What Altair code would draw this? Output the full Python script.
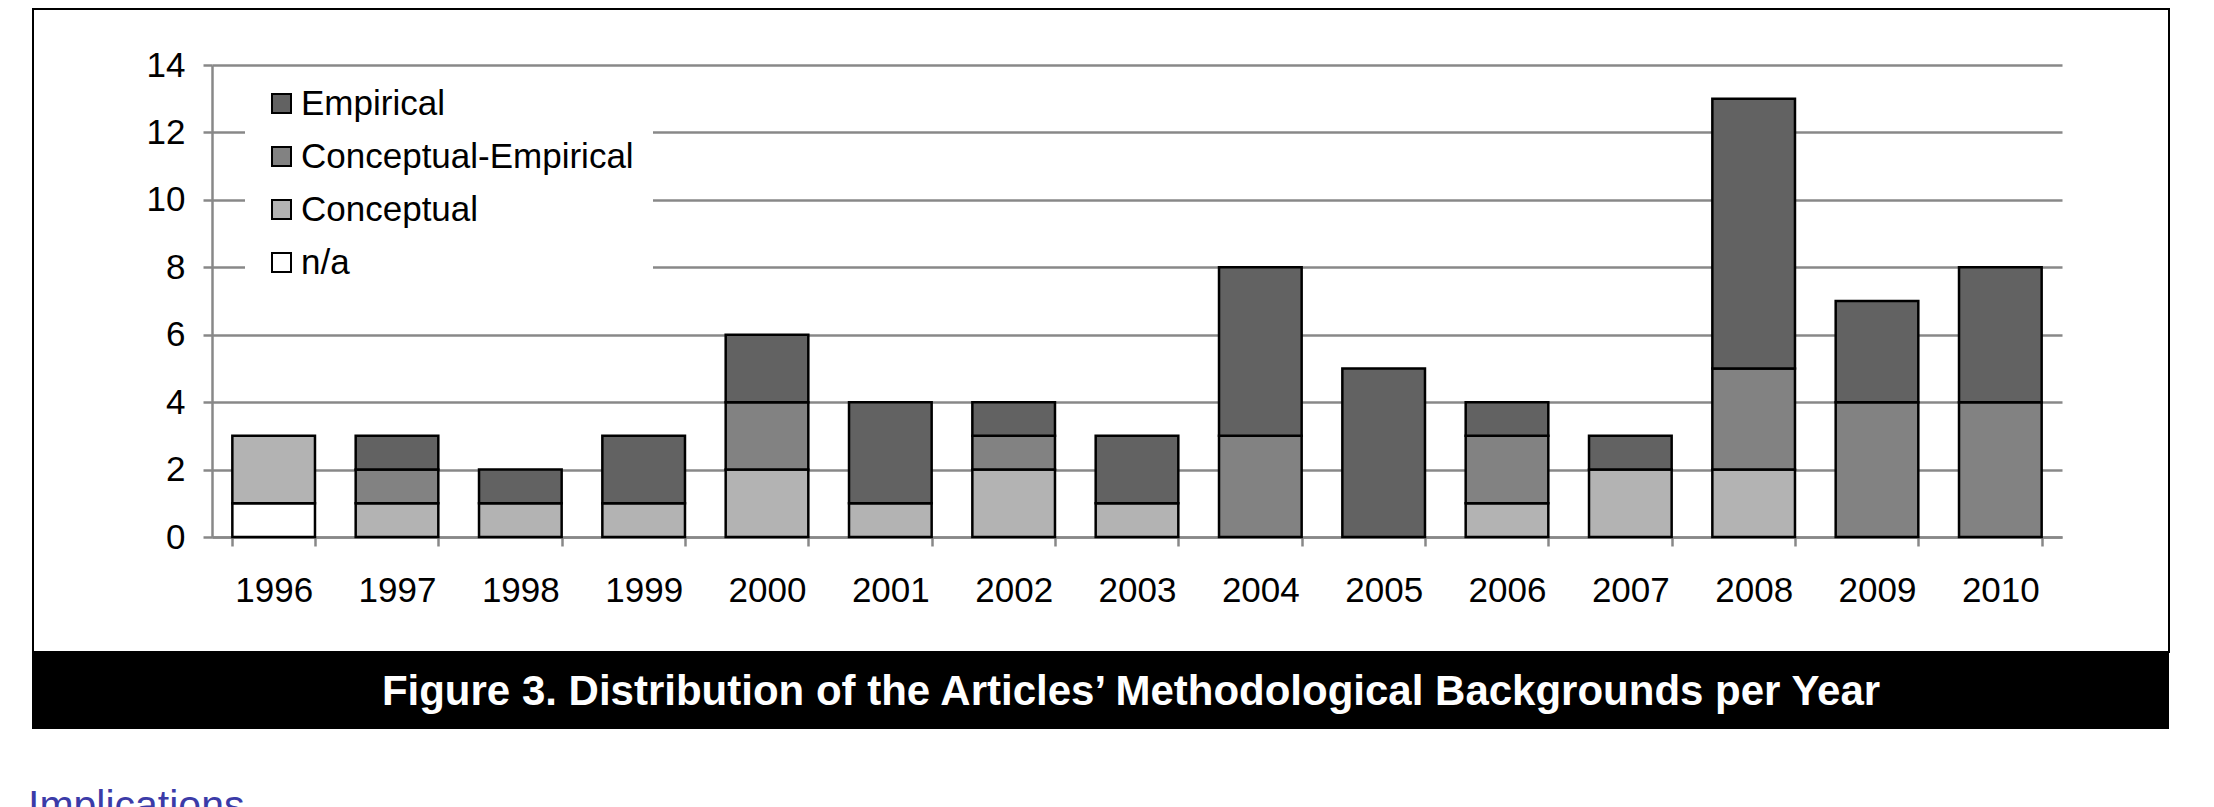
import altair as alt
import pandas as pd

years = ["1996", "1997", "1998", "1999", "2000", "2001", "2002", "2003",
         "2004", "2005", "2006", "2007", "2008", "2009", "2010"]
na_vals = [1, 0, 0, 0, 0, 0, 0, 0, 0, 0, 0, 0, 0, 0, 0]
conceptual = [2, 1, 1, 1, 2, 1, 2, 1, 0, 0, 1, 2, 2, 0, 0]
conc_emp = [0, 1, 0, 0, 2, 0, 1, 0, 3, 0, 2, 0, 3, 4, 4]
empirical = [0, 1, 1, 2, 2, 3, 1, 2, 5, 5, 1, 1, 8, 3, 4]

categories = ["Empirical", "Conceptual-Empirical", "Conceptual", "n/a"]
colors = ["#626262", "#828282", "#b3b3b3", "#ffffff"]
stack_rank = {"n/a": 0, "Conceptual": 1, "Conceptual-Empirical": 2, "Empirical": 3}

title_text = "Figure 3. Distribution of the Articles\u2019 Methodological Backgrounds per Year"
next_heading = "Implications"

rows = []
for cat, vals in [("n/a", na_vals), ("Conceptual", conceptual),
                  ("Conceptual-Empirical", conc_emp), ("Empirical", empirical)]:
    for y, v in zip(years, vals):
        if v > 0:
            rows.append({"year": y, "category": cat, "count": v, "rank": stack_rank[cat]})
df = pd.DataFrame(rows)

FONT = "Liberation Sans"
GRID = "#888888"
FS = 35

bars = alt.Chart(df).mark_bar(stroke="black", strokeWidth=2.5).encode(
    x=alt.X("year:N", sort=years,
            scale=alt.Scale(paddingInner=0.33, paddingOuter=0.165),
            axis=alt.Axis(title=None, labelAngle=0, tickBand="extent",
                          domainColor=GRID, domainWidth=2.5,
                          tickColor=GRID, tickWidth=2.5, tickSize=9,
                          labelFont=FONT, labelFontSize=FS, labelColor="black",
                          labelPadding=27, grid=False)),
    y=alt.Y("sum(count):Q", stack="zero",
            scale=alt.Scale(domain=[0, 14], nice=False),
            axis=alt.Axis(title=None, values=[0, 2, 4, 6, 8, 10, 12, 14],
                          grid=True, gridColor=GRID, gridWidth=2.5,
                          domainColor=GRID, domainWidth=2.5,
                          tickColor=GRID, tickWidth=2.5, tickSize=9,
                          labelFont=FONT, labelFontSize=FS, labelColor="black",
                          labelPadding=18)),
    color=alt.Color("category:N",
                    scale=alt.Scale(domain=categories, range=colors),
                    legend=alt.Legend(title=None, orient="none",
                                      legendX=33, legendY=2,
                                      padding=19, fillColor="white",
                                      symbolType="square", symbolSize=361,
                                      symbolStrokeColor="black", symbolStrokeWidth=2,
                                      labelFont=FONT, labelFontSize=FS,
                                      labelColor="black", labelLimit=600,
                                      labelOffset=2, rowPadding=17)),
    order=alt.Order("rank:Q", sort="ascending"),
)

one = alt.Data(values=[{"k": 1}])

frame = alt.Chart(one).mark_rect(fillOpacity=0, stroke="black", strokeWidth=2).encode(
    x=alt.value(-179), x2=alt.value(1957), y=alt.value(-56), y2=alt.value(587)
)
band = alt.Chart(one).mark_rect(color="black").encode(
    x=alt.value(-180), x2=alt.value(1957), y=alt.value(587), y2=alt.value(664)
)
title = alt.Chart(alt.Data(values=[{"t": title_text}])).mark_text(
    font=FONT, fontSize=42, fontWeight="bold", color="white",
    align="center", baseline="alphabetic"
).encode(text="t:N", x=alt.value(919), y=alt.value(640))

heading = alt.Chart(alt.Data(values=[{"t": next_heading}])).mark_text(
    font=FONT, fontSize=41, color="#3b3ba8", align="left", baseline="alphabetic"
).encode(text="t:N", x=alt.value(-184), y=alt.value(754))

chart = alt.layer(frame, band, bars, title, heading).properties(
    width=1850, height=472,
    padding={"left": 204, "top": 57, "right": 144, "bottom": 270},
    autosize=alt.AutoSizeParams(type="none"),
    background="white",
).configure_view(stroke=None)

chart.save("out.html", embed_options={"renderer": "svg", "actions": False})
